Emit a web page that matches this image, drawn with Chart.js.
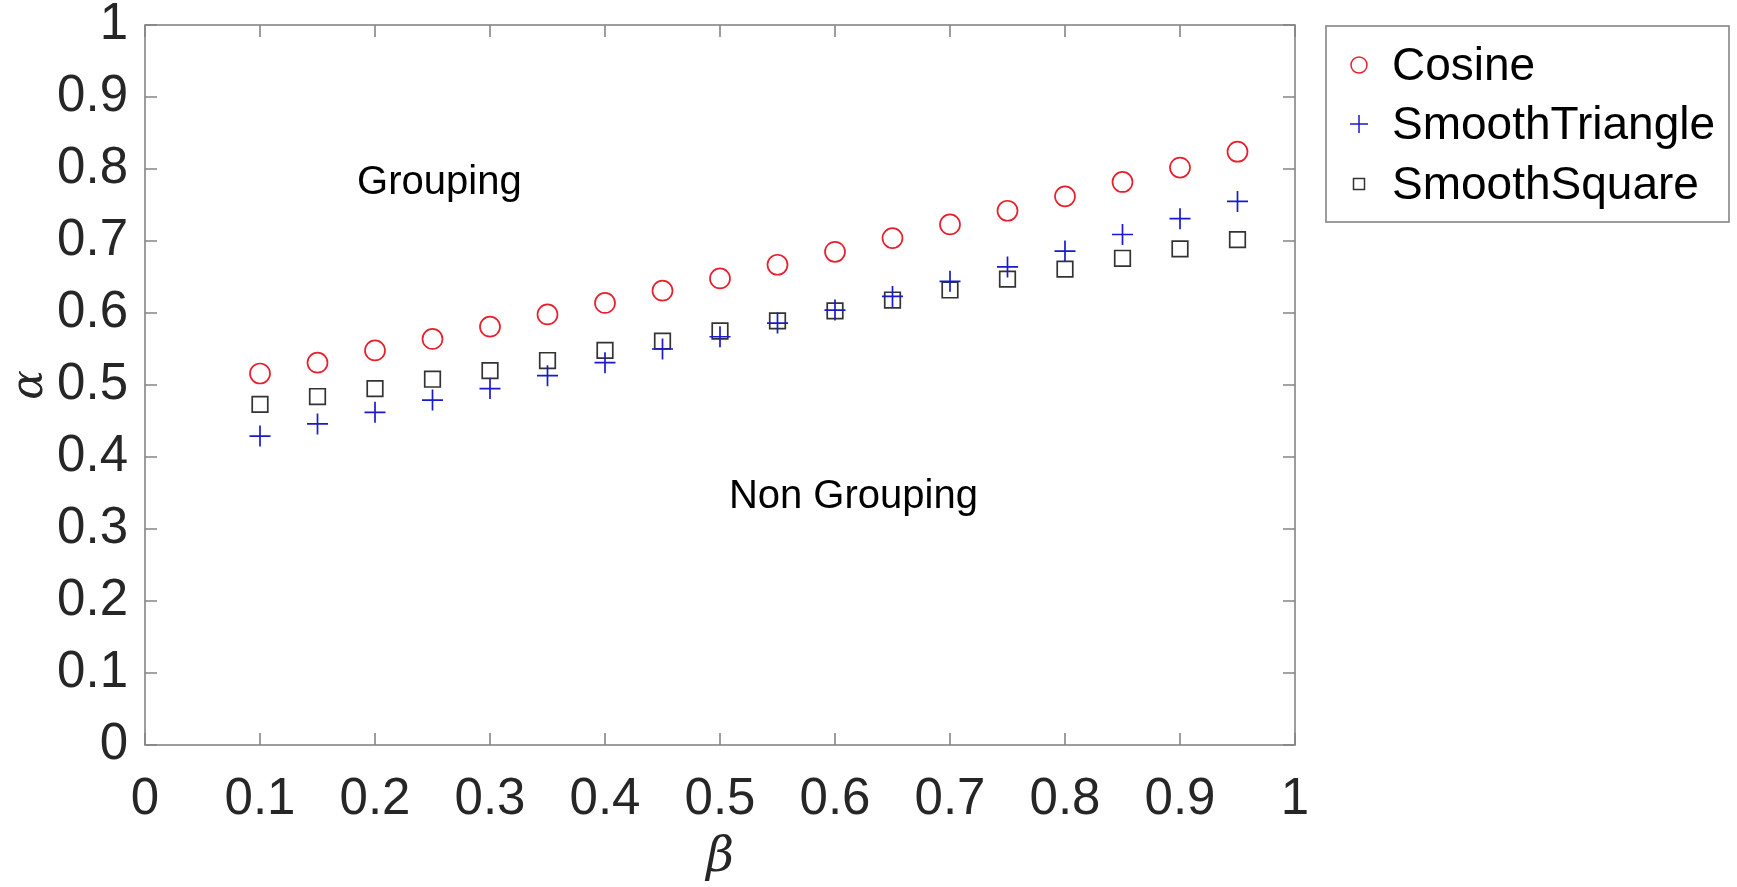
<!DOCTYPE html>
<html>
<head>
<meta charset="utf-8">
<title>alpha vs beta</title>
<script src="https://cdn.jsdelivr.net/npm/chart.js"></script>
<style>
  html, body { margin: 0; padding: 0; background: #fff; }
  #wrap { width: 1737px; height: 887px; }
</style>
</head>
<body>
<div id="wrap"><canvas id="phaseChart" width="1737" height="887"></canvas></div>
<script>
// beta values (x axis)
const betaValues = [0.1, 0.15, 0.2, 0.25, 0.3, 0.35, 0.4, 0.45, 0.5, 0.55, 0.6, 0.65, 0.7, 0.75, 0.8, 0.85, 0.9, 0.95];

// alpha thresholds
const cosineAlpha = [0.516, 0.531, 0.548, 0.564, 0.581, 0.598, 0.614, 0.631, 0.648, 0.667, 0.685, 0.704, 0.723, 0.742, 0.762, 0.782, 0.802, 0.824];
const triangleAlpha = [0.429, 0.446, 0.462, 0.479, 0.495, 0.513, 0.531, 0.550, 0.567, 0.586, 0.604, 0.623, 0.644, 0.664, 0.686, 0.709, 0.731, 0.755];
const squareAlpha = [0.473, 0.484, 0.495, 0.508, 0.520, 0.534, 0.548, 0.561, 0.575, 0.589, 0.603, 0.618, 0.632, 0.647, 0.661, 0.676, 0.689, 0.702];

const seriesNames = ["Cosine", "SmoothTriangle", "SmoothSquare"];
const regionLabels = [
  { text: "Grouping", beta: 0.256, alpha: 0.781 },
  { text: "Non Grouping", beta: 0.616, alpha: 0.344 }
];

const FONT = "'Liberation Sans', Arial, sans-serif";
const AXIS_GRAY = "#858585";
const TEXT_COLOR = "#262626";

// plot box edges in the 1737x887 picture
const BOX = { left: 145, right: 1295, top: 25, bottom: 745 };

function toPoints(ys) {
  return betaValues.map((b, i) => ({ x: b, y: ys[i] }));
}

function fmtTick(v) {
  const r = Math.round(v * 10) / 10;
  if (r === 0) return "0";
  if (r === 1) return "1";
  return r.toFixed(1);
}

// MATLAB-like box with inward ticks, region text and legend
const matlabBox = {
  id: "matlabBox",
  beforeDatasetsDraw(chart) {
    const { ctx, chartArea: a, scales } = chart;
    ctx.save();
    ctx.strokeStyle = AXIS_GRAY;
    ctx.lineWidth = 1.6;
    ctx.strokeRect(a.left, a.top, a.right - a.left, a.bottom - a.top);
    const tl = 12;
    ctx.beginPath();
    scales.x.ticks.forEach((t) => {
      const px = scales.x.getPixelForValue(t.value);
      ctx.moveTo(px, a.bottom); ctx.lineTo(px, a.bottom - tl);
      ctx.moveTo(px, a.top); ctx.lineTo(px, a.top + tl);
    });
    scales.y.ticks.forEach((t) => {
      const py = scales.y.getPixelForValue(t.value);
      ctx.moveTo(a.left, py); ctx.lineTo(a.left + tl, py);
      ctx.moveTo(a.right, py); ctx.lineTo(a.right - tl, py);
    });
    ctx.stroke();

    ctx.fillStyle = "#000";
    ctx.font = "40px " + FONT;
    ctx.textAlign = "center";
    ctx.textBaseline = "middle";
    regionLabels.forEach((r) => {
      ctx.fillText(r.text, scales.x.getPixelForValue(r.beta), scales.y.getPixelForValue(r.alpha));
    });
    ctx.restore();
  },
  afterDraw(chart) {
    const { ctx } = chart;
    const bx = 1326, by = 26, bw = 403, bh = 196;
    ctx.save();
    ctx.fillStyle = "#fff";
    ctx.fillRect(bx, by, bw, bh);
    ctx.strokeStyle = AXIS_GRAY;
    ctx.lineWidth = 1.6;
    ctx.strokeRect(bx, by, bw, bh);
    ctx.font = "46px " + FONT;
    ctx.textBaseline = "middle";
    ctx.textAlign = "left";
    const rowY = [65, 124, 184];
    const mx = 1359;
    chart.data.datasets.forEach((ds, i) => {
      const y = rowY[i];
      const style = ds.pointStyle;
      ctx.strokeStyle = ds.borderColor;
      ctx.lineWidth = 1.5;
      ctx.beginPath();
      if (style === "circle") ctx.arc(mx, y, 8, 0, Math.PI * 2);
      else if (style === "cross") { ctx.moveTo(mx - 9, y); ctx.lineTo(mx + 9, y); ctx.moveTo(mx, y - 9); ctx.lineTo(mx, y + 9); }
      else ctx.rect(mx - 5.5, y - 5.5, 11, 11);
      ctx.stroke();
      ctx.fillStyle = "#000";
      ctx.fillText(seriesNames[i], 1392, y + 2);
    });
    ctx.restore();
  }
};

new Chart(document.getElementById("phaseChart"), {
  type: "scatter",
  data: {
    datasets: [
      {
        label: seriesNames[0],
        data: toPoints(cosineAlpha),
        pointStyle: "circle",
        pointRadius: 10,
        borderColor: "#e8202e",
        backgroundColor: "rgba(0,0,0,0)",
        borderWidth: 1.7
      },
      {
        label: seriesNames[1],
        data: toPoints(triangleAlpha),
        pointStyle: "cross",
        pointRadius: 10.5,
        borderColor: "#1a1acc",
        backgroundColor: "rgba(0,0,0,0)",
        borderWidth: 1.7
      },
      {
        label: seriesNames[2],
        data: toPoints(squareAlpha),
        pointStyle: "rect",
        pointRadius: 11,
        borderColor: "#333333",
        backgroundColor: "rgba(0,0,0,0)",
        borderWidth: 1.7
      }
    ]
  },
  options: {
    responsive: false,
    animation: false,
    devicePixelRatio: 1,
    layout: { padding: { left: 0, right: 1737 - BOX.right, top: BOX.top, bottom: 0 } },
    plugins: {
      legend: { display: false },
      tooltip: { enabled: false }
    },
    scales: {
      x: {
        type: "linear",
        min: 0, max: 1,
        grid: { display: false, drawTicks: false },
        border: { display: false },
        ticks: {
          stepSize: 0.1,
          padding: 24,
          color: TEXT_COLOR,
          font: { family: FONT, size: 51 },
          callback: (v) => fmtTick(v),
          maxRotation: 0
        },
        title: {
          display: true,
          text: "β",
          color: TEXT_COLOR,
          font: { family: "'DejaVu Serif', serif", size: 48, style: "italic" },
          padding: { top: 0, bottom: 0 }
        },
        afterFit: (s) => { s.height = 887 - BOX.bottom; s.paddingLeft = 0; s.paddingRight = 0; }
      },
      y: {
        type: "linear",
        min: 0, max: 1,
        grid: { display: false, drawTicks: false },
        border: { display: false },
        ticks: {
          stepSize: 0.1,
          padding: 17,
          color: TEXT_COLOR,
          font: { family: FONT, size: 51 },
          callback: (v) => fmtTick(v)
        },
        title: {
          display: true,
          text: "α",
          color: TEXT_COLOR,
          font: { family: "'DejaVu Serif', serif", size: 44, style: "italic" },
          padding: { top: 4, bottom: 0 }
        },
        afterFit: (s) => { s.width = BOX.left; s.paddingTop = 0; s.paddingBottom = 0; }
      }
    }
  },
  plugins: [matlabBox]
});
</script>
</body>
</html>
